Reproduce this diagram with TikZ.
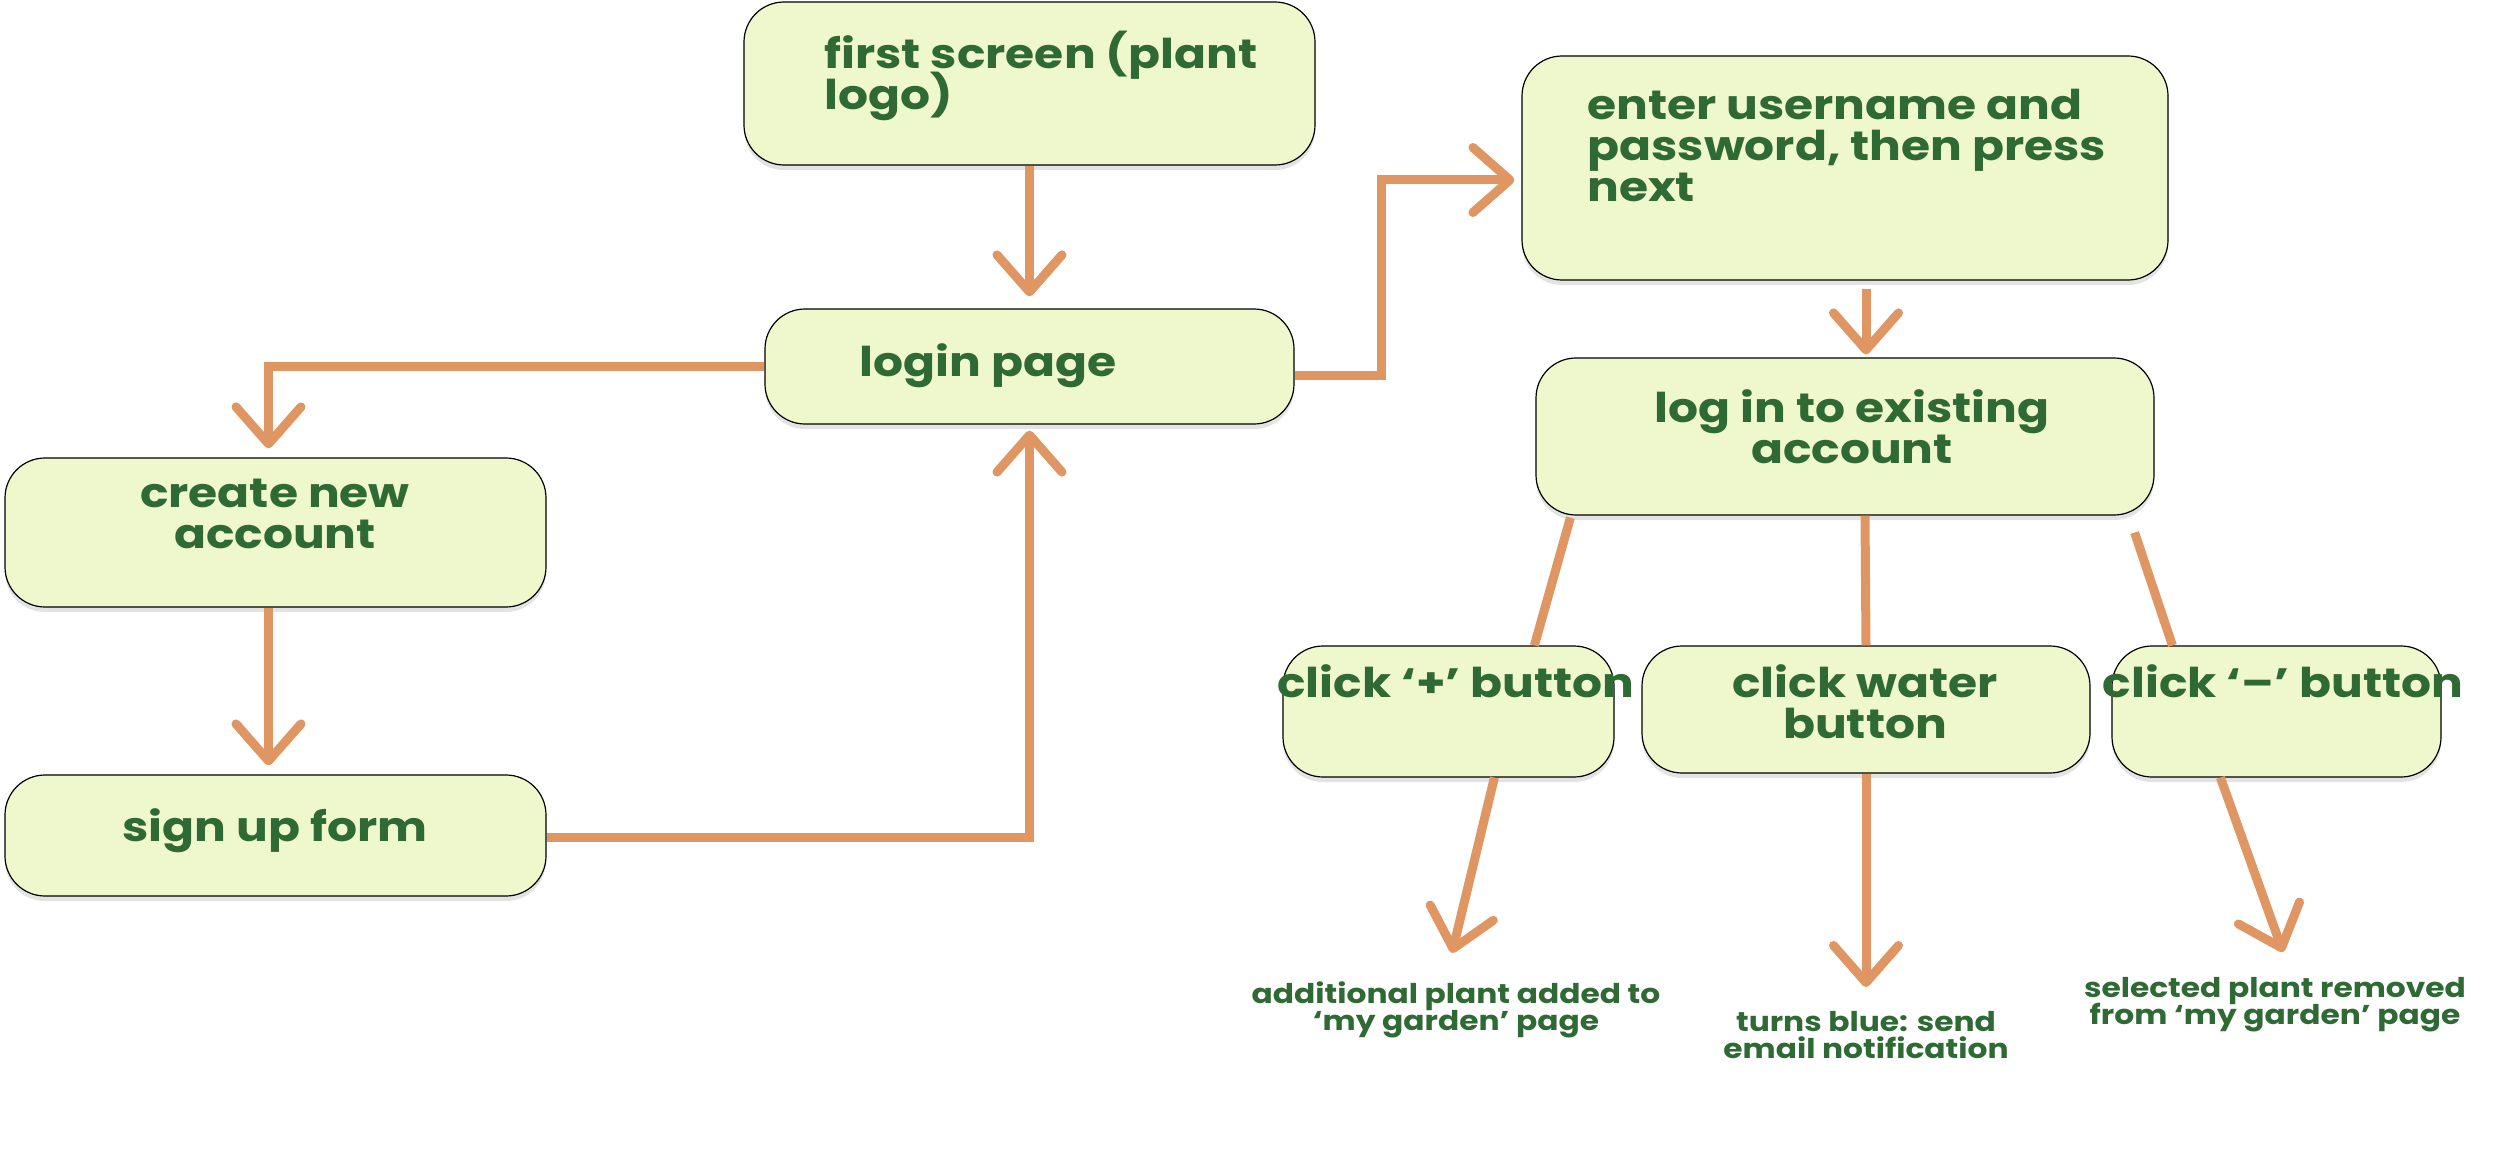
\documentclass[tikz,border=0pt]{standalone}
\usepackage{fontspec}
\setmainfont{Poppins}[FakeStretch=1.15]
\usetikzlibrary{arrows.meta,fit,calc,shadows}
\definecolor{boxfill}{RGB}{239,247,204}
\definecolor{txtgreen}{RGB}{47,106,53}
\definecolor{arrowc}{RGB}{223,150,98}
\newcommand{\tightlines}{\setlength{\lineskiplimit}{-30pt}\setlength{\lineskip}{0pt}}
\begin{document}
\begin{tikzpicture}[x=0.5pt,y=-0.5pt,
  box/.style={draw=black, line width=0.6pt, fill=boxfill, rounded corners=20pt, inner sep=0pt,
    drop shadow={shadow xshift=0pt, shadow yshift=-2.5pt, opacity=0.22}},
  txt/.style={text=txtgreen, font=\fontsize{20.5}{20.5}\selectfont\bfseries\tightlines, inner sep=0pt},
  lbl/.style={text=txtgreen, font=\fontsize{13.6}{13.5}\selectfont\bfseries\tightlines, inner sep=0pt, align=center},
  link/.style={draw=arrowc, line width=4.5pt, line join=miter},
  arr/.style={link, -{Straight Barb[length=18.5pt, width=32.5pt, round]}}]
\useasboundingbox (0,0) rectangle (2508,1156);

% boxes
\node[box, fit={(744,2) (1315,165)}] (first) {};
\node[box, fit={(765,309) (1294,424)}] (login) {};
\node[box, fit={(1522,56) (2168,280)}] (enter) {};
\node[box, fit={(1536,358) (2154,515)}] (exist) {};
\node[box, fit={(5,458) (546,607)}] (create) {};
\node[box, fit={(5,775) (546,896)}] (signup) {};
\node[box, fit={(1283,646) (1614,777)}] (clickp) {};
\node[box, fit={(1642,646) (2090,773)}] (water) {};
\node[box, fit={(2112,646) (2441,777)}] (clickm) {};

% texts
\node[txt, anchor=west, align=left] (firstT) at (824,76) {first screen (plant\\logo)};
\node[txt, anchor=west] (loginT) at (859,366) {login page};
\node[txt, anchor=west, align=left] (enterT) at (1587,145) {enter username and\\password, then press\\next};
\node[txt, align=center] (existT) at (1852,427) {log in to existing\\account};
\node[txt, align=center] (createT) at (275,514) {create new\\account};
\node[txt] (signupT) at (275,831) {sign up form};
\node[txt] (clickpT) at (1456,681) {click ‘+’ button};
\node[txt, align=center] (waterT) at (1865,702) {click water\\button};
\node[txt] (clickmT) at (2283,681) {click ‘–’ button};

% result labels
\node[lbl] (addL) at (1456,1010) {additional plant added to\\‘my garden’ page};
\node[lbl] (blueL) at (1866,1035) {turns blue: send\\email notification};
\node[lbl] (remL) at (2275,1005) {selected plant removed\\from ‘my garden’ page};

% connectors
\coordinate (c1) at (1381,180);
\coordinate (addTip) at (1452,953);
\coordinate (blueTip) at (1866,987);
\coordinate (remTip) at (2283,952);

\draw[arr] (first.south) -- ($(login.north)+(0,-12)$);
\draw[arr] (login.west) -| ($(create.north)+(-7,-9)$);
\draw[arr] ($(create.south)+(-7,0)$) -- ($(signup.north)+(-7,-9)$);
\draw[arr] ($(signup.east)+(0,2)$) -| ($(login.south)+(0,6)$);
\draw[arr] ($(login.east)+(0,9)$) -| (c1) -- ($(enter.west |- c1)+(-7,0)$);
\draw[arr] ($(enter.south)+(21,8)$) -- ($(exist.north)+(21,-3)$);

\draw[link] ($(exist.south west)+(35,2)$) -- ($(clickp.north west)+(252,0)$);
\draw[link] ($(exist.south)+(20,0)$) -- (water.north);
\draw[link] ($(exist.south east)+(-20,17)$) -- ($(clickm.north west)+(61,0)$);

\draw[arr] ($(clickp.south west)+(212,0)$) -- (addTip);
\draw[arr] (water.south) -- (blueTip);
\draw[arr] ($(clickm.south west)+(109,0)$) -- (remTip);
\end{tikzpicture}
\end{document}
